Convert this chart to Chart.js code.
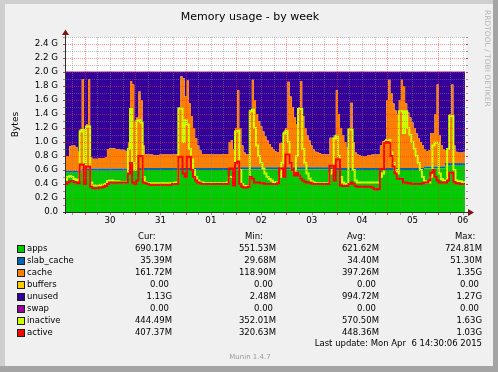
<!DOCTYPE html>
<html>
<head>
<meta charset="utf-8">
<script src="https://cdn.jsdelivr.net/npm/chart.js@4.4.1/dist/chart.umd.min.js"></script>
<style>
  html, body { margin: 0; padding: 0; background: #f0f0f0; }
  canvas { display: block; }
</style>
</head>
<body>
<canvas id="memChart" width="498" height="372"></canvas>
<script>
// one sample per hour, hour 0 = Mar 29 00:00
const firstHour = 15;
const lastHour = 205.5;
const totalMem = 2.0; // G

const apps = [
  0.56, 0.56, 0.56, 0.56, 0.56, 0.56, 0.56, 0.56, 0.59,
  0.59, 0.59, 0.59, 0.59, 0.59, 0.59, 0.59, 0.59, 0.59, 0.59, 0.59, 0.59, 0.59, 0.59, 0.59, 0.59, 0.59, 0.59, 0.59, 0.59, 0.59, 0.59, 0.59, 0.59,
  0.60, 0.60, 0.60, 0.60, 0.60, 0.60, 0.60, 0.60, 0.60, 0.60, 0.60, 0.60, 0.60, 0.60, 0.60, 0.60, 0.60, 0.60, 0.60, 0.60, 0.60, 0.60, 0.60, 0.60,
  0.60, 0.60, 0.60, 0.60, 0.60, 0.60, 0.60, 0.60, 0.60, 0.60, 0.60, 0.60, 0.60, 0.60, 0.60, 0.60, 0.60, 0.60, 0.60, 0.60, 0.60, 0.60, 0.60, 0.60,
  0.61, 0.61, 0.61, 0.61, 0.61, 0.61, 0.61, 0.61, 0.61, 0.61, 0.61, 0.61, 0.61, 0.61, 0.61, 0.61, 0.61, 0.61, 0.61, 0.61, 0.61, 0.61, 0.61, 0.61,
  0.61, 0.61, 0.61, 0.61, 0.61, 0.61, 0.61, 0.61, 0.61, 0.61, 0.61, 0.61, 0.61, 0.61, 0.61, 0.61, 0.61, 0.61, 0.61, 0.61, 0.61, 0.61, 0.61, 0.61,
  0.60, 0.60, 0.60, 0.60, 0.60, 0.60, 0.60, 0.60, 0.60, 0.60, 0.60, 0.60, 0.60, 0.60, 0.60, 0.60, 0.60, 0.60, 0.60, 0.60, 0.60, 0.60, 0.60, 0.60,
  0.60, 0.60, 0.60, 0.60, 0.60, 0.60, 0.60, 0.60, 0.60, 0.60, 0.60, 0.60, 0.60, 0.60, 0.60, 0.60, 0.60, 0.60, 0.62, 0.62, 0.62, 0.62, 0.62, 0.62,
  0.62, 0.62, 0.62, 0.62, 0.66, 0.66, 0.66, 0.66, 0.66, 0.66, 0.66, 0.66, 0.66, 0.66
];

const slabCache = [
  0.03, 0.03, 0.03, 0.03, 0.03, 0.03, 0.03, 0.03, 0.03,
  0.03, 0.03, 0.03, 0.03, 0.03, 0.03, 0.03, 0.03, 0.03, 0.03, 0.03, 0.03, 0.03, 0.03, 0.03, 0.03, 0.03, 0.03, 0.03, 0.03, 0.03, 0.03, 0.03, 0.03,
  0.03, 0.03, 0.03, 0.03, 0.03, 0.03, 0.03, 0.03, 0.03, 0.03, 0.03, 0.03, 0.03, 0.03, 0.03, 0.03, 0.03, 0.03, 0.03, 0.03, 0.03, 0.03, 0.03, 0.03,
  0.03, 0.03, 0.03, 0.03, 0.03, 0.03, 0.03, 0.03, 0.03, 0.03, 0.03, 0.03, 0.03, 0.03, 0.03, 0.03, 0.03, 0.03, 0.03, 0.03, 0.03, 0.03, 0.03, 0.03,
  0.03, 0.03, 0.03, 0.03, 0.03, 0.03, 0.03, 0.03, 0.03, 0.03, 0.03, 0.03, 0.03, 0.03, 0.03, 0.03, 0.03, 0.03, 0.03, 0.03, 0.03, 0.03, 0.03, 0.03,
  0.03, 0.03, 0.03, 0.03, 0.03, 0.03, 0.03, 0.03, 0.03, 0.03, 0.03, 0.03, 0.03, 0.03, 0.03, 0.03, 0.03, 0.03, 0.03, 0.03, 0.03, 0.03, 0.03, 0.03,
  0.03, 0.03, 0.03, 0.03, 0.03, 0.03, 0.03, 0.03, 0.03, 0.03, 0.03, 0.03, 0.03, 0.03, 0.03, 0.03, 0.03, 0.03, 0.03, 0.03, 0.03, 0.03, 0.03, 0.03,
  0.03, 0.03, 0.03, 0.03, 0.03, 0.03, 0.03, 0.03, 0.03, 0.03, 0.03, 0.03, 0.03, 0.03, 0.03, 0.03, 0.03, 0.03, 0.03, 0.03, 0.03, 0.03, 0.03, 0.03,
  0.03, 0.03, 0.03, 0.03, 0.04, 0.04, 0.04, 0.04, 0.04, 0.04, 0.04, 0.04, 0.04, 0.04
];

const cache = [
  0.21, 0.21, 0.35, 0.36, 0.36, 0.34, 0.27, 0.59, 1.28,
  0.20, 0.63, 1.28, 0.16, 0.14, 0.14, 0.14, 0.15, 0.15, 0.15, 0.16, 0.28, 0.29, 0.29, 0.29, 0.28, 0.28, 0.27, 0.27, 0.26, 0.25, 0.38, 1.25, 1.20,
  0.67, 0.72, 1.09, 0.97, 0.32, 0.20, 0.19, 0.19, 0.19, 0.18, 0.18, 0.18, 0.19, 0.19, 0.19, 0.19, 0.19, 0.19, 0.19, 0.19, 0.20, 0.87, 1.31, 1.28,
  1.02, 1.25, 0.92, 0.74, 0.57, 0.42, 0.32, 0.25, 0.20, 0.20, 0.20, 0.20, 0.19, 0.19, 0.19, 0.19, 0.19, 0.19, 0.20, 0.20, 0.20, 0.37, 0.40, 0.27,
  0.56, 1.10, 0.56, 0.31, 0.21, 0.18, 0.18, 0.81, 1.25, 0.96, 0.76, 0.66, 0.58, 0.51, 0.44, 0.38, 0.33, 0.29, 0.26, 0.23, 0.21, 0.34, 0.35, 0.51,
  0.56, 1.22, 1.01, 0.86, 0.71, 0.61, 0.86, 1.23, 0.73, 0.56, 0.46, 0.38, 0.31, 0.26, 0.22, 0.21, 0.20, 0.19, 0.18, 0.18, 0.18, 0.42, 0.42, 0.46,
  1.11, 0.77, 0.57, 0.47, 0.37, 0.30, 0.57, 0.93, 0.37, 0.22, 0.19, 0.18, 0.17, 0.17, 0.17, 0.18, 0.18, 0.19, 0.19, 0.19, 0.19, 0.32, 0.38, 0.40,
  0.97, 1.26, 1.07, 0.92, 0.82, 0.77, 0.97, 1.26, 1.17, 0.92, 0.79, 0.72, 0.65, 0.57, 0.49, 0.42, 0.37, 0.32, 0.25, 0.22, 0.23, 0.48, 0.48, 0.75,
  1.17, 0.45, 0.30, 0.25, 0.18, 0.20, 0.70, 1.12, 0.25, 0.16, 0.15, 0.15, 0.15, 0.16
];

const inactive = [
  0.46, 0.50, 0.51, 0.50, 0.47, 0.46, 0.45, 1.15, 1.17,
  0.46, 1.22, 1.22, 0.42, 0.38, 0.38, 0.38, 0.38, 0.39, 0.39, 0.40, 0.44, 0.45, 0.45, 0.44, 0.44, 0.44, 0.43, 0.43, 0.43, 0.43, 0.90, 1.47, 0.70,
  0.60, 1.30, 1.31, 1.28, 0.50, 0.42, 0.41, 0.41, 0.41, 0.41, 0.41, 0.41, 0.41, 0.41, 0.41, 0.41, 0.41, 0.41, 0.41, 0.42, 0.42, 1.48, 1.48, 1.00,
  1.31, 1.25, 0.90, 0.75, 0.60, 0.50, 0.45, 0.42, 0.42, 0.41, 0.41, 0.41, 0.41, 0.41, 0.41, 0.41, 0.41, 0.41, 0.41, 0.41, 0.42, 0.50, 0.50, 0.45,
  1.15, 1.16, 0.60, 0.40, 0.37, 0.37, 0.37, 1.44, 1.46, 1.20, 0.95, 0.80, 0.70, 0.62, 0.55, 0.50, 0.47, 0.45, 0.43, 0.42, 0.42, 0.50, 0.70, 1.12,
  1.16, 1.00, 0.70, 0.60, 0.55, 0.80, 1.47, 1.47, 0.90, 0.70, 0.55, 0.48, 0.44, 0.42, 0.41, 0.41, 0.41, 0.41, 0.41, 0.41, 0.41, 0.55, 0.60, 1.05,
  1.09, 0.80, 0.50, 0.42, 0.40, 0.40, 1.18, 1.18, 0.60, 0.45, 0.42, 0.42, 0.42, 0.42, 0.42, 0.42, 0.42, 0.42, 0.42, 0.42, 0.42, 0.50, 0.55, 1.00,
  1.03, 1.03, 0.85, 0.70, 0.60, 0.55, 1.44, 1.44, 1.13, 1.44, 1.20, 1.10, 1.00, 0.90, 0.80, 0.70, 0.60, 0.50, 0.44, 0.42, 0.42, 0.50, 0.95, 0.99,
  0.99, 0.55, 0.47, 0.45, 0.45, 0.90, 1.37, 1.37, 0.60, 0.45, 0.44, 0.44, 0.43, 0.43
];

const active = [
  0.40, 0.42, 0.44, 0.44, 0.43, 0.42, 0.41, 0.68, 0.68,
  0.40, 0.65, 0.65, 0.36, 0.34, 0.34, 0.34, 0.35, 0.35, 0.36, 0.37, 0.40, 0.42, 0.42, 0.42, 0.42, 0.42, 0.42, 0.42, 0.42, 0.42, 0.55, 0.70, 0.42,
  0.40, 0.45, 0.80, 0.80, 0.42, 0.41, 0.40, 0.39, 0.39, 0.39, 0.39, 0.39, 0.39, 0.39, 0.39, 0.39, 0.39, 0.39, 0.40, 0.40, 0.40, 0.79, 0.79, 0.55,
  0.50, 0.79, 0.79, 0.60, 0.50, 0.45, 0.42, 0.41, 0.40, 0.40, 0.40, 0.40, 0.40, 0.40, 0.40, 0.40, 0.40, 0.40, 0.40, 0.40, 0.40, 0.62, 0.62, 0.38,
  0.70, 0.72, 0.40, 0.36, 0.35, 0.35, 0.36, 0.50, 0.48, 0.42, 0.42, 0.42, 0.41, 0.41, 0.40, 0.40, 0.40, 0.40, 0.40, 0.40, 0.41, 0.62, 0.62, 0.50,
  0.82, 0.82, 0.70, 0.60, 0.52, 0.56, 0.52, 0.48, 0.45, 0.43, 0.42, 0.42, 0.41, 0.40, 0.40, 0.40, 0.40, 0.40, 0.40, 0.40, 0.40, 0.66, 0.66, 0.45,
  0.75, 0.75, 0.38, 0.37, 0.37, 0.37, 0.40, 0.42, 0.40, 0.37, 0.36, 0.36, 0.36, 0.36, 0.36, 0.36, 0.36, 0.35, 0.33, 0.32, 0.33, 0.61, 0.61, 0.99,
  1.00, 0.99, 0.80, 0.65, 0.55, 0.48, 0.47, 0.47, 0.42, 0.42, 0.41, 0.41, 0.40, 0.40, 0.40, 0.40, 0.40, 0.41, 0.42, 0.42, 0.45, 0.56, 0.60, 0.50,
  0.45, 0.42, 0.42, 0.42, 0.42, 0.45, 0.56, 0.56, 0.43, 0.41, 0.41, 0.40, 0.40, 0.40
];

// buffers and swap stay at 0.00 the whole week
const buffers = apps.map(() => 0);
const swap = apps.map(() => 0);
// whatever is not used by the other stacked parts
const unused = apps.map((v, i) => +(totalMem - v - slabCache[i] - cache[i] - buffers[i]).toFixed(3));

const dayTicks = [36, 60, 84, 108, 132, 156, 180, 204];
const dayLabels = ['30', '31', '01', '02', '03', '04', '05', '06'];
const yTicks = [0, 0.2, 0.4, 0.6, 0.8, 1.0, 1.2, 1.4, 1.6, 1.8, 2.0, 2.2, 2.4];

const seriesNames = ['apps', 'slab_cache', 'cache', 'buffers', 'unused', 'swap', 'inactive', 'active'];
const seriesColors = ['#00cc00', '#0066b3', '#ff8000', '#ffcc00', '#330099', '#990099', '#ccff00', '#ff0000'];
const curVals = ['690.17M', '35.39M', '161.72M', '0.00', '1.13G', '0.00', '444.49M', '407.37M'];
const minVals = ['551.53M', '29.68M', '118.90M', '0.00', '2.48M', '0.00', '352.01M', '320.63M'];
const avgVals = ['621.62M', '34.40M', '397.26M', '0.00', '994.72M', '0.00', '570.50M', '448.36M'];
const maxVals = ['724.81M', '51.30M', '1.35G', '0.00', '1.27G', '0.00', '1.63G', '1.03G'];

const FONT = '"DejaVu Sans", sans-serif';
Chart.defaults.font.family = FONT;
Chart.defaults.color = '#000';

const toPoints = arr => arr.map((v, i) => ({ x: firstHour + i, y: v }));

function area(i, values, fill) {
  return {
    label: seriesNames[i],
    data: toPoints(values),
    backgroundColor: seriesColors[i],
    borderColor: 'rgba(0,0,0,0)',
    borderWidth: 0,
    fill: fill,
    stepped: 'middle',
    pointRadius: 0,
    order: 5
  };
}

// background, frame, grid on top of the areas, axes, legend table
const muninPlugin = {
  id: 'munin',
  beforeDraw(chart) {
    const { ctx, chartArea: a } = chart;
    ctx.save();
    ctx.fillStyle = '#f0f0f0';
    ctx.fillRect(0, 0, 498, 372);
    ctx.fillStyle = '#cfcfcf';
    ctx.fillRect(0, 0, 498, 4);
    ctx.fillRect(0, 0, 5, 372);
    ctx.fillStyle = '#a4a4a4';
    ctx.fillRect(493, 0, 5, 372);
    ctx.fillRect(0, 366, 498, 6);
    ctx.fillStyle = '#ffffff';
    ctx.fillRect(a.left, a.top, a.right - a.left, a.bottom - a.top);
    // title
    ctx.fillStyle = '#000';
    ctx.font = '11px ' + FONT;
    ctx.textAlign = 'center';
    ctx.textBaseline = 'middle';
    ctx.fillText('Memory usage - by week', 250, 17);
    ctx.restore();
  },
  afterDatasetsDraw(chart) {
    const { ctx, chartArea: a, scales: { x, y } } = chart;
    const minor = 'rgba(130,130,130,0.5)';
    const major = 'rgba(255,40,40,0.5)';
    ctx.save();
    ctx.lineWidth = 1;
    ctx.setLineDash([1, 1]);
    const hLine = (v, col) => {
      const py = Math.round(y.getPixelForValue(v)) + 0.5;
      ctx.strokeStyle = col;
      ctx.beginPath(); ctx.moveTo(a.left, py); ctx.lineTo(a.right, py); ctx.stroke();
    };
    const vLine = (h, col) => {
      const px = Math.round(x.getPixelForValue(h)) + 0.5;
      ctx.strokeStyle = col;
      ctx.beginPath(); ctx.moveTo(px, a.top); ctx.lineTo(px, a.bottom); ctx.stroke();
    };
    for (let k = 1; k <= 25; k++) if (k % 2 || k > 24) hLine(k / 10, minor);
    for (let h = 18; h <= 204; h += 6) if (h % 24) vLine(h, minor);
    for (let k = 2; k <= 24; k += 2) hLine(k / 10, major);
    for (let h = 24; h <= 192; h += 24) vLine(h, major);

    // small tick marks around the plot
    ctx.setLineDash([]);
    for (let k = 0; k <= 25; k++) {
      const py = Math.round(y.getPixelForValue(k / 10)) + 0.5;
      ctx.strokeStyle = (k % 2 === 0 && k <= 24) ? '#d04040' : '#999';
      ctx.beginPath(); ctx.moveTo(a.left - 3, py); ctx.lineTo(a.left, py); ctx.stroke();
      ctx.beginPath(); ctx.moveTo(a.right, py); ctx.lineTo(a.right + 2, py); ctx.stroke();
    }
    for (let h = 18; h <= 204; h += 6) {
      const px = Math.round(x.getPixelForValue(h)) + 0.5;
      ctx.strokeStyle = h % 24 ? '#999' : '#d04040';
      ctx.beginPath(); ctx.moveTo(px, a.bottom); ctx.lineTo(px, a.bottom + 3); ctx.stroke();
    }

    // axes with arrows
    ctx.strokeStyle = '#303030';
    ctx.beginPath();
    ctx.moveTo(a.left - 0.5, a.bottom + 2); ctx.lineTo(a.left - 0.5, 33);
    ctx.moveTo(a.left - 3, a.bottom + 0.5); ctx.lineTo(a.right + 2, a.bottom + 0.5);
    ctx.stroke();
    ctx.fillStyle = '#7d1414';
    ctx.beginPath();
    ctx.moveTo(a.left - 0.5, 29.5); ctx.lineTo(a.left + 3, 35); ctx.lineTo(a.left - 4, 35); ctx.closePath();
    ctx.fill();
    ctx.beginPath();
    ctx.moveTo(a.right + 8, a.bottom + 0.5); ctx.lineTo(a.right + 2, a.bottom - 3); ctx.lineTo(a.right + 2, a.bottom + 4); ctx.closePath();
    ctx.fill();
    ctx.restore();
  },
  afterDraw(chart) {
    const { ctx } = chart;
    ctx.save();
    ctx.textBaseline = 'middle';
    ctx.fillStyle = '#000';
    ctx.font = '8.5px ' + FONT;
    ctx.textAlign = 'left';
    [['Cur:', 138], ['Min:', 245], ['Avg:', 347], ['Max:', 455]].forEach(([t, px]) => ctx.fillText(t, px, 236.5));

    const colRight = [172, 276, 379, 482];
    const columns = [curVals, minVals, avgVals, maxVals];
    seriesNames.forEach((name, i) => {
      const cy = 249 + i * 12;
      ctx.fillStyle = seriesColors[i];
      ctx.fillRect(18, cy - 3, 6, 6);
      ctx.strokeStyle = '#202020';
      ctx.lineWidth = 1;
      ctx.strokeRect(17.5, cy - 3.5, 7, 7);
      ctx.fillStyle = '#000';
      ctx.textAlign = 'left';
      ctx.fillText(name, 27, cy);
      ctx.textAlign = 'right';
      columns.forEach((col, c) => {
        const s = col[i];
        ctx.fillText(s, colRight[c] - (/[MG]$/.test(s) ? 0 : 3), cy);
      });
    });
    ctx.textAlign = 'right';
    ctx.fillText('Last update: Mon Apr  6 14:30:06 2015', 482, 344);

    ctx.fillStyle = '#999';
    ctx.font = '7px ' + FONT;
    ctx.textAlign = 'center';
    ctx.fillText('Munin 1.4.7', 250, 357);

    ctx.fillStyle = '#b4b4b4';
    ctx.font = '7.5px ' + FONT;
    ctx.translate(487, 10);
    ctx.rotate(Math.PI / 2);
    ctx.textAlign = 'left';
    ctx.fillText('RRDTOOL / TOBI OETIKER', 0, 0);
    ctx.restore();
  }
};

new Chart(document.getElementById('memChart'), {
  type: 'line',
  data: {
    datasets: [
      area(0, apps, 'origin'),
      area(1, slabCache, '-1'),
      area(2, cache, '-1'),
      area(3, buffers, '-1'),
      area(4, unused, '-1'),
      {
        label: seriesNames[5],
        data: toPoints(swap),
        backgroundColor: seriesColors[5],
        borderColor: seriesColors[5],
        borderWidth: 1,
        fill: '-1',
        stepped: 'middle',
        pointRadius: 0,
        order: 5
      },
      {
        label: seriesNames[6],
        data: toPoints(inactive),
        borderColor: seriesColors[6],
        borderWidth: 2,
        fill: false,
        stepped: 'middle',
        pointRadius: 0,
        stack: 'inactive',
        order: 1
      },
      {
        label: seriesNames[7],
        data: toPoints(active),
        borderColor: seriesColors[7],
        borderWidth: 2,
        fill: false,
        stepped: 'middle',
        pointRadius: 0,
        stack: 'active',
        order: 0
      }
    ]
  },
  options: {
    responsive: false,
    animation: false,
    events: [],
    layout: { padding: { left: 6, top: 37, right: 32, bottom: 0 } },
    scales: {
      x: {
        type: 'linear',
        min: firstHour,
        max: lastHour,
        grid: { display: false, drawTicks: false, tickLength: 0 },
        border: { display: false },
        afterBuildTicks: axis => { axis.ticks = dayTicks.map(v => ({ value: v })); },
        afterFit: axis => { axis.height = 160; },
        ticks: {
          autoSkip: false,
          maxRotation: 0,
          padding: 4,
          font: { size: 8.7 },
          callback: (value, index) => dayLabels[index]
        }
      },
      y: {
        stacked: true,
        min: 0,
        max: 2.5,
        grid: { display: false, drawTicks: false, tickLength: 0 },
        border: { display: false },
        afterBuildTicks: axis => { axis.ticks = yTicks.map(v => ({ value: v })); },
        afterFit: axis => { axis.width = 60; },
        title: { display: true, text: 'Bytes', font: { size: 9 }, padding: { top: 4, bottom: 0 } },
        ticks: {
          autoSkip: false,
          padding: 8,
          font: { size: 8.7 },
          callback: v => (v === 0 ? '0.0' : v.toFixed(1) + ' G')
        }
      }
    },
    plugins: {
      legend: { display: false },
      tooltip: { enabled: false },
      title: { display: false }
    }
  },
  plugins: [muninPlugin]
});
</script>
</body>
</html>
